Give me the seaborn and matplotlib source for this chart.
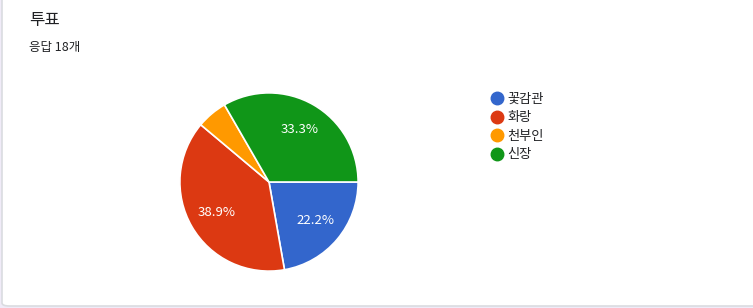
import matplotlib
matplotlib.use("Agg")
import matplotlib.pyplot as plt
import seaborn as sns
from matplotlib.lines import Line2D
from matplotlib.patches import FancyBboxPatch

categories = ["꽃감관", "화랑", "천부인", "신장"]
counts = [4, 7, 1, 6]
colors = ["#3366cc", "#dc3912", "#ff9900", "#109618"]
title = "투표"
subtitle = "응답 18개"

sns.set_theme(style="white")
plt.rcParams['font.family'] = ['Noto Sans CJK KR', 'DejaVu Sans']

W, H = 753, 308
fig = plt.figure(figsize=(W / 100, H / 100), dpi=100)
fig.patch.set_facecolor("#f0ebf8")

card = FancyBboxPatch((2 / W, 2 / H), (W + 20) / W, (H + 20) / H,
                      boxstyle="round,pad=0,rounding_size=0.01",
                      transform=fig.transFigure, facecolor="white",
                      edgecolor="#dadce0", linewidth=1.2, zorder=-5)
fig.patches.append(card)

cx, cy, r = 269, 182, 90
ax = fig.add_axes([(cx - r) / W, (H - cy - r) / H, 2 * r / W, 2 * r / H])
ax.set_facecolor("none")
ax.set_zorder(2)

def pct(p):
    return f"{p:.1f}%" if p >= 10 else ""

wedges, texts, autotexts = ax.pie(
    counts, colors=colors, startangle=0, counterclock=False,
    autopct=pct, pctdistance=0.68,
    wedgeprops=dict(edgecolor="white", linewidth=1.2),
    textprops=dict(color="white", fontsize=9.5))
ax.set_xlim(-1.01, 1.01)
ax.set_ylim(-1.01, 1.01)
ax.set_aspect("equal")
ax.axis("off")

fig.text(29 / W, 1 - 20 / H, title, fontsize=12, color="#202124",
         va="center", ha="left")
fig.text(29 / W, 1 - 48 / H, subtitle, fontsize=9, color="#202124",
         va="center", ha="left")

handles = [Line2D([0], [0], marker="o", linestyle="", markersize=9,
                  markerfacecolor=c, markeredgecolor=c) for c in colors]
leg = fig.legend(handles, categories, loc="upper left",
                 bbox_to_anchor=(482 / W, 1 - 86 / H), frameon=False,
                 fontsize=9.5, handletextpad=0.2, labelspacing=0.42,
                 handlelength=1.2, borderpad=0)
for t in leg.get_texts():
    t.set_color("#202124")

fig.savefig("out.png", dpi=100, facecolor=fig.get_facecolor())
